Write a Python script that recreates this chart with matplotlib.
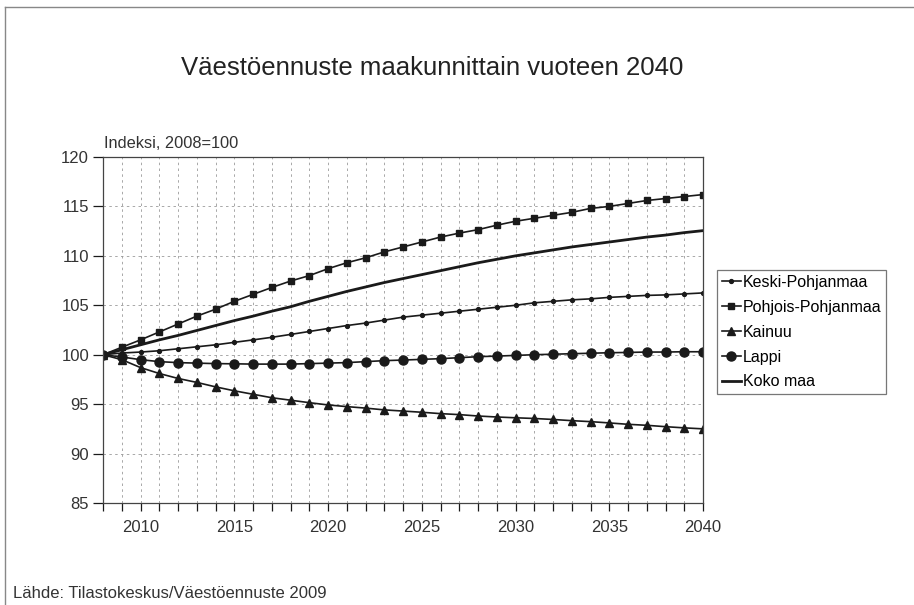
import matplotlib
matplotlib.use("Agg")
import matplotlib.pyplot as plt
from matplotlib.lines import Line2D
from matplotlib.ticker import MultipleLocator, FuncFormatter

plt.rcParams["font.family"] = ["Liberation Sans", "DejaVu Sans"]

# Data: index 2008 = 100
years = list(range(2008, 2041))
keski_pohjanmaa = [100, 100.17, 100.27, 100.4, 100.6, 100.8, 101.0, 101.25, 101.5, 101.76,
                   102.05, 102.35, 102.65, 102.95, 103.2, 103.5, 103.8, 104.0, 104.2, 104.4,
                   104.6, 104.8, 105.0, 105.25, 105.4, 105.55, 105.65, 105.8, 105.9, 106.0,
                   106.05, 106.15, 106.25]
pohjois_pohjanmaa = [100, 100.75, 101.5, 102.3, 103.1, 103.9, 104.6, 105.4, 106.1, 106.8,
                     107.45, 108.0, 108.7, 109.3, 109.8, 110.4, 110.9, 111.4, 111.9, 112.3,
                     112.65, 113.1, 113.5, 113.8, 114.1, 114.4, 114.8, 115.0, 115.3, 115.6,
                     115.8, 116.0, 116.2]
kainuu = [100, 99.5, 98.7, 98.1, 97.6, 97.2, 96.75, 96.35, 96.0, 95.65,
          95.4, 95.15, 94.92, 94.75, 94.6, 94.42, 94.3, 94.18, 94.04, 93.94,
          93.8, 93.7, 93.62, 93.55, 93.45, 93.33, 93.23, 93.1, 92.96, 92.86,
          92.72, 92.6, 92.5]
lappi = [100, 99.77, 99.5, 99.3, 99.2, 99.15, 99.1, 99.08, 99.05, 99.05,
         99.05, 99.1, 99.15, 99.2, 99.3, 99.4, 99.46, 99.53, 99.6, 99.7,
         99.8, 99.86, 99.93, 100.0, 100.05, 100.1, 100.15, 100.2, 100.23, 100.27,
         100.27, 100.3, 100.3]
koko_maa = [100, 100.5, 101.0, 101.5, 101.95, 102.45, 102.95, 103.45, 103.9, 104.4,
            104.85, 105.4, 105.9, 106.4, 106.85, 107.3, 107.7, 108.1, 108.5, 108.9,
            109.3, 109.65, 110.0, 110.3, 110.6, 110.9, 111.15, 111.4, 111.65, 111.9,
            112.1, 112.35, 112.55]

title = "Väestöennuste maakunnittain vuoteen 2040"
ylabel = "Indeksi, 2008=100"
source = "Lähde: Tilastokeskus/Väestöennuste 2009"

W, H = 914, 605
fig = plt.figure(figsize=(W / 100, H / 100), dpi=100)
fig.patch.set_facecolor("white")
ax = fig.add_axes([103 / W, 1 - 503 / H, 600 / W, 346 / H])

ink = "#1a1a1a"
ax.plot(years, keski_pohjanmaa, color=ink, lw=1.2, marker="o", ms=2.8, label="Keski-Pohjanmaa")
ax.plot(years, pohjois_pohjanmaa, color=ink, lw=1.2, marker="s", ms=5, label="Pohjois-Pohjanmaa")
ax.plot(years, kainuu, color=ink, lw=1.2, marker="^", ms=6, label="Kainuu")
ax.plot(years, lappi, color=ink, lw=1.2, marker="o", ms=6.5, label="Lappi")
ax.plot(years, koko_maa, color=ink, lw=2.0, label="Koko maa")

ax.set_xlim(2008, 2040)
ax.set_ylim(85, 120)
ax.xaxis.set_major_locator(MultipleLocator(1))
ax.xaxis.set_major_formatter(FuncFormatter(lambda v, p: f"{int(v)}" if int(v) % 5 == 0 else ""))
ax.yaxis.set_major_locator(MultipleLocator(5))
ax.tick_params(axis="x", direction="out", length=6, width=0.9, colors=ink, labelsize=12, pad=6)
ax.tick_params(axis="y", direction="out", length=7, width=0.9, colors=ink, labelsize=12, pad=3)
for lab in ax.get_xticklabels() + ax.get_yticklabels():
    lab.set_color("#333333")

ax.grid(True, color="#9a9a9a", lw=0.6, linestyle=(0, (3, 4)))
ax.set_axisbelow(True)
for sp in ax.spines.values():
    sp.set_color("#444444")
    sp.set_linewidth(0.9)

# Texts
fig.text(432 / W, 1 - 68 / H, title, ha="center", va="center", fontsize=18.5, color="#222222")
fig.text(104 / W, 1 - 143 / H, ylabel, ha="left", va="center", fontsize=11.8, color="#333333")
fig.text(13 / W, 1 - 594 / H, source, ha="left", va="center", fontsize=12, color="#333333")

leg = ax.legend(loc="upper left", bbox_to_anchor=(717 / W, 1 - 270 / H),
                bbox_transform=fig.transFigure, borderaxespad=0, frameon=True,
                fancybox=False, fontsize=11.5, handlelength=1.2, handletextpad=0.1,
                labelspacing=0.62, borderpad=0.3)
leg.get_frame().set_edgecolor("#555555")
leg.get_frame().set_linewidth(0.9)

# Outer border of the picture
fig.add_artist(Line2D([5 / W, 5 / W], [0, 1 - 7 / H], transform=fig.transFigure, color="#888888", lw=1))
fig.add_artist(Line2D([5 / W, 1], [1 - 7 / H, 1 - 7 / H], transform=fig.transFigure, color="#888888", lw=1))

fig.savefig("out.png", dpi=100)
